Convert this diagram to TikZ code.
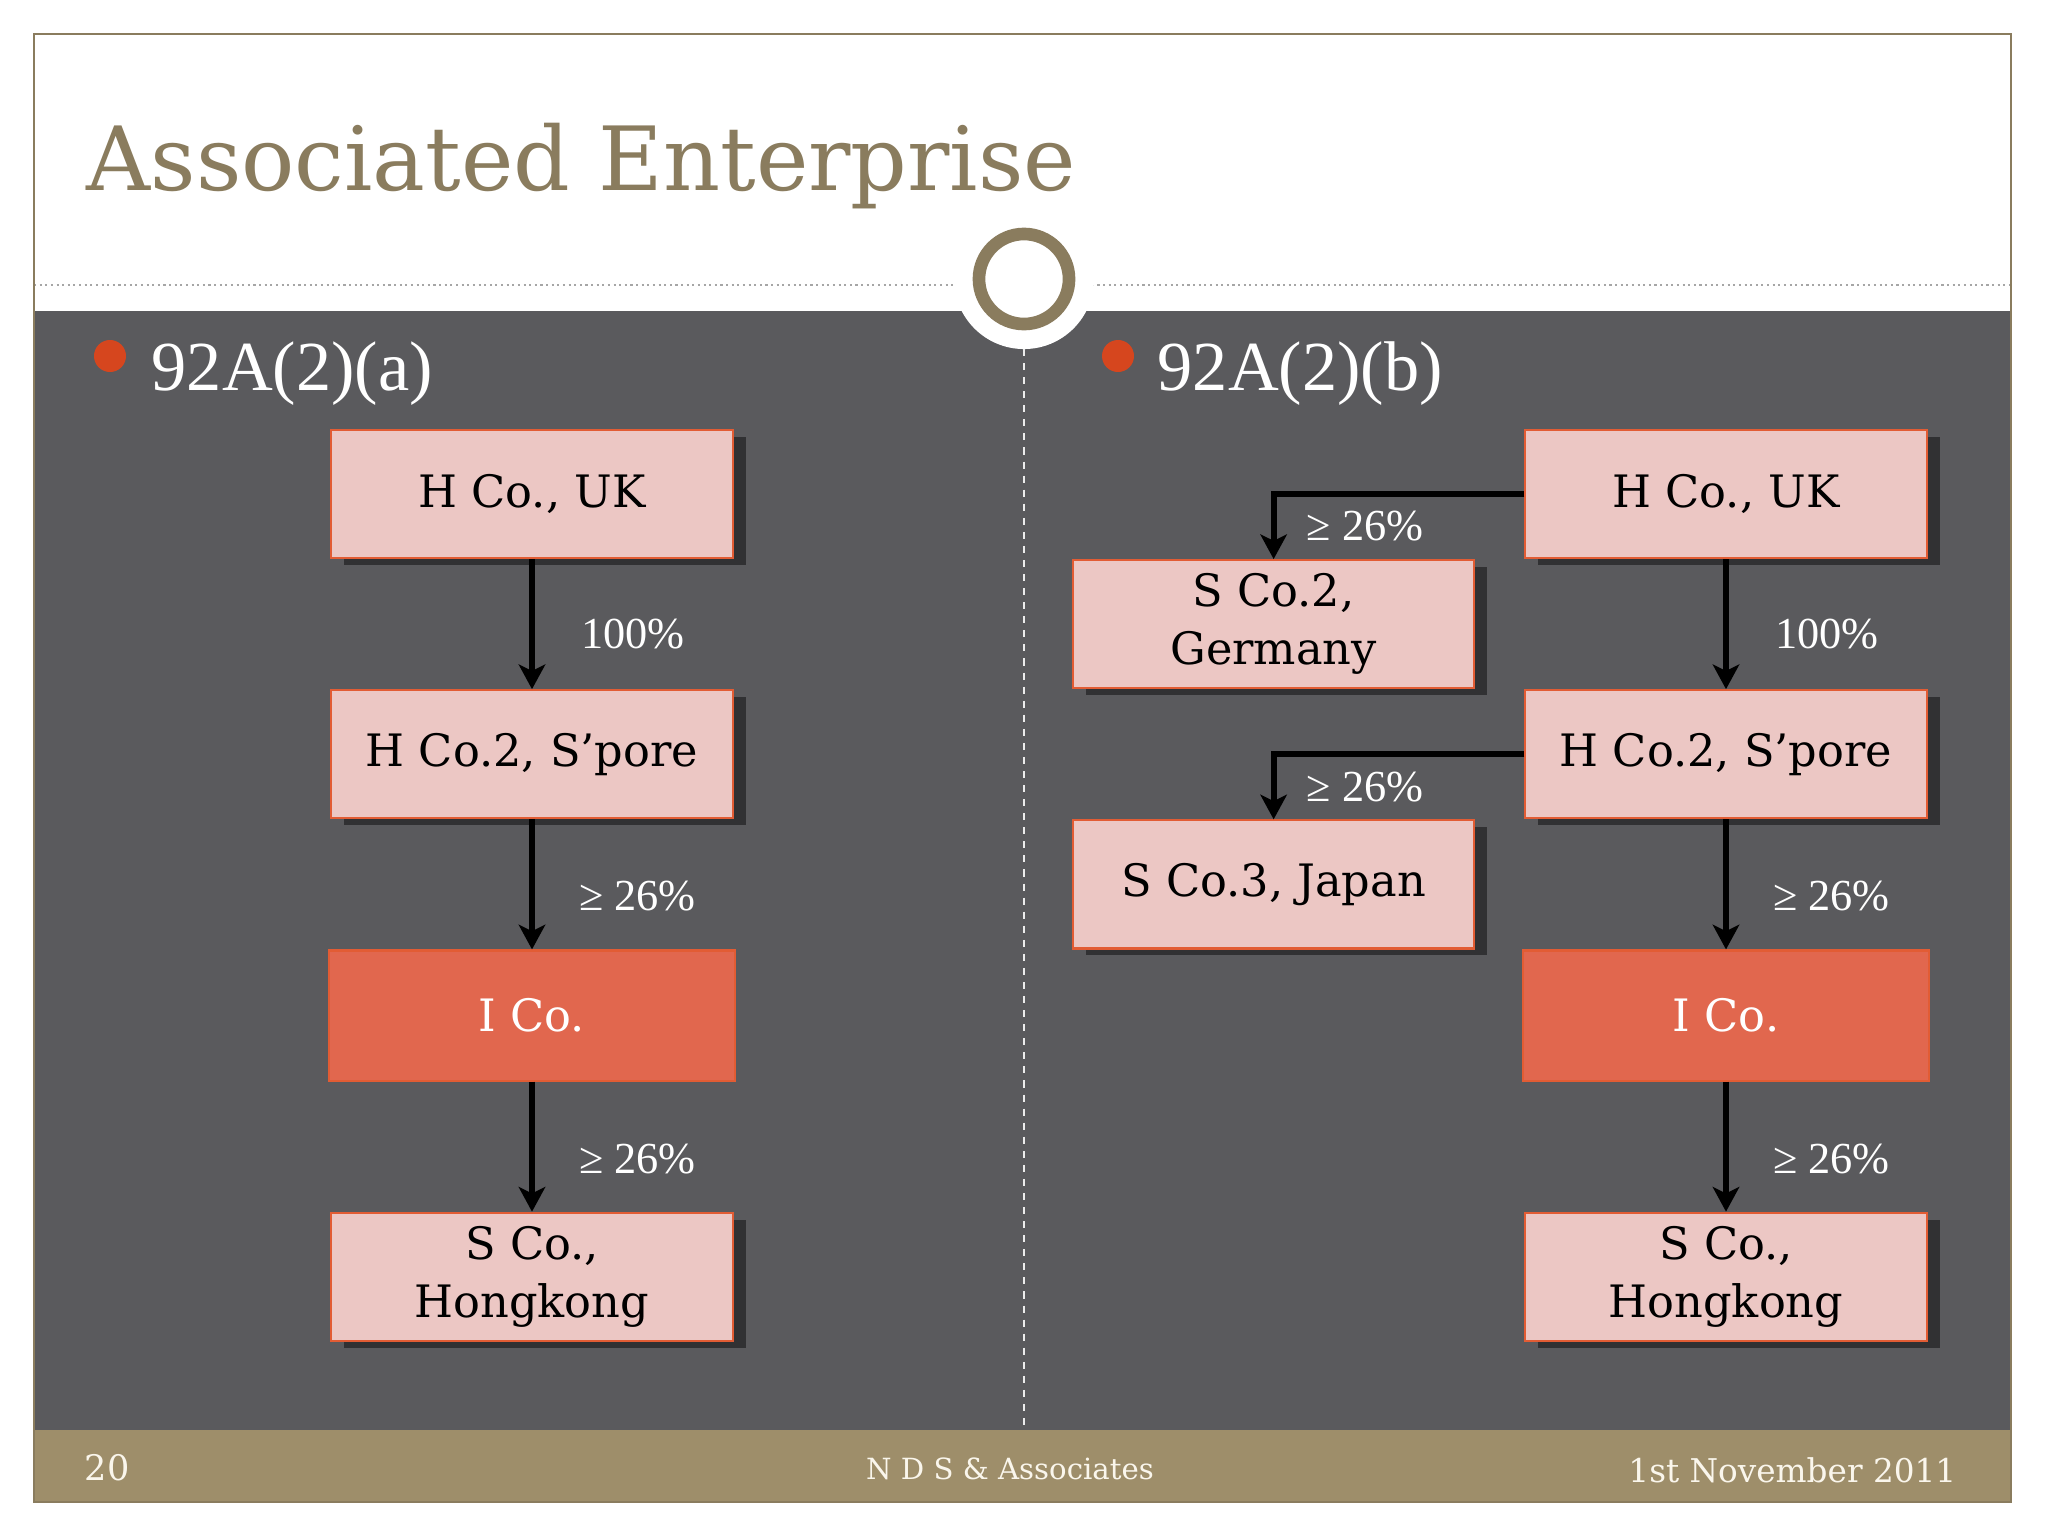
\documentclass[tikz,border=0pt]{standalone}
\usepackage{fontspec}
\setmainfont{Liberation Serif}
\newfontfamily\geofont{DejaVu Serif}
\usepackage{tikz}
\usetikzlibrary{arrows.meta,positioning,shadows}
\definecolor{panelgray}{RGB}{90,90,93}
\definecolor{footertan}{RGB}{158,142,106}
\definecolor{titletan}{RGB}{138,124,94}
\definecolor{pinkbox}{RGB}{236,199,196}
\definecolor{boxedge}{RGB}{226,92,52}
\definecolor{icofill}{RGB}{225,103,78}
\definecolor{bulletred}{RGB}{214,70,30}
\definecolor{cream}{RGB}{250,246,236}

\begin{document}
\begin{tikzpicture}
    [x=0.01cm, y=-0.01cm, node distance=1.3cm,
    box/.style={rectangle, minimum width=4.01cm, minimum height=1.28cm, text centered, align=center, draw=boxedge, line width=0.6pt, font=\geofont\fontsize{12.7}{16.5}\selectfont},
    company/.style={box, fill=pinkbox, drop shadow={shadow xshift=0.13cm, shadow yshift=-0.07cm, fill=black, opacity=0.45}},
    target/.style={box, fill=icofill, text=white, minimum width=4.06cm, minimum height=1.3cm},
    pct/.style={font=\fontsize{12.6}{15}\selectfont, text=white, inner sep=0pt, anchor=west},
    owns/.style={-{Stealth[length=7pt,width=7.5pt,inset=1.8pt]}, line width=1.7pt},
    footer/.style={inner sep=0pt, text=cream, font=\geofont\fontsize{8.3}{10}\selectfont}]
    \useasboundingbox (0,0) rectangle (2048,1536);

    % slide frame
    \fill[white] (0,0) rectangle (2048,1536);
    \fill[panelgray] (34,311) rectangle (2011,1430);
    \fill[footertan] (34,1430) rectangle (2011,1502);
    \draw[gray!70, densely dotted, line width=0.6pt] (34,285) -- (2011,285);
    \draw[titletan, line width=0.7pt] (34,34) rectangle (2011,1502);
    \fill[white] (1024,279) circle (0.7cm);
    \draw[titletan, line width=3.6pt] (1024,279) circle (0.45cm);
    \draw[white!85!gray, dash pattern=on 2pt off 2pt, line width=0.4pt] (1024,349) -- (1024,1430);

    \node (title) [anchor=base west, inner sep=0pt, text=titletan, font=\geofont\fontsize{25.2}{30}\selectfont] at (86,190) {Associated Enterprise};

    \node (dotA) [circle, fill=bulletred, minimum size=0.32cm, inner sep=0pt] at (110,356) {};
    \node (secA) [anchor=base west, inner sep=0pt, text=white, font=\fontsize{20}{24}\selectfont] at (151,390) {92A(2)(a)};
    \node (dotB) [circle, fill=bulletred, minimum size=0.32cm, inner sep=0pt] at (1118,356) {};
    \node (secB) [anchor=base west, inner sep=0pt, text=white, font=\fontsize{20}{24}\selectfont] at (1157,390) {92A(2)(b)};

    % (a) chain
    \node (hcoA) [company] at (532,494) {H Co., UK};
    \node (hco2A) [company, below=of hcoA] {H Co.2, S’pore};
    \node (icoA) [target, below=of hco2A] {I Co.};
    \node (scoA) [company, below=of icoA] {S Co.,\\Hongkong};
    \draw[owns] (hcoA) -- node[pct, xshift=0.46cm, yshift=-0.1cm] {100\%} (hco2A);
    \draw[owns] (hco2A) -- node[pct, xshift=0.44cm, yshift=-0.12cm] {≥ 26\%} (icoA);
    \draw[owns] (icoA) -- node[pct, xshift=0.44cm, yshift=-0.12cm] {≥ 26\%} (scoA);

    % (b) chain
    \node (hcoB) [company] at (1726,494) {H Co., UK};
    \node (hco2B) [company, below=of hcoB] {H Co.2, S’pore};
    \node (icoB) [target, below=of hco2B] {I Co.};
    \node (scoB) [company, below=of icoB] {S Co.,\\Hongkong};
    \node (sco2B) [company, below left=0cm and 0.49cm of hcoB] {S Co.2,\\Germany};
    \node (sco3B) [company, below left=0cm and 0.49cm of hco2B] {S Co.3, Japan};
    \draw[owns] (hcoB) -- node[pct, xshift=0.46cm, yshift=-0.1cm] {100\%} (hco2B);
    \draw[owns] (hco2B) -- node[pct, xshift=0.44cm, yshift=-0.12cm] {≥ 26\%} (icoB);
    \draw[owns] (icoB) -- node[pct, xshift=0.44cm, yshift=-0.12cm] {≥ 26\%} (scoB);
    \draw[owns] (hcoB.west) -| node[pct, pos=0.75, xshift=0.3cm] {≥ 26\%} (sco2B.north);
    \draw[owns] (hco2B.west) -| node[pct, pos=0.75, xshift=0.3cm] {≥ 26\%} (sco3B.north);

    \node (pageno) [footer, anchor=base west, font=\geofont\fontsize{10}{12}\selectfont] at (84,1480) {20};
    \node (firm) [footer, anchor=base] at (1010,1479) {N D S \& Associates};
    \node (date) [footer, anchor=base east, font=\geofont\fontsize{9.3}{11}\selectfont] at (1957,1482) {1st November 2011};

  \end{tikzpicture}
\end{document}
